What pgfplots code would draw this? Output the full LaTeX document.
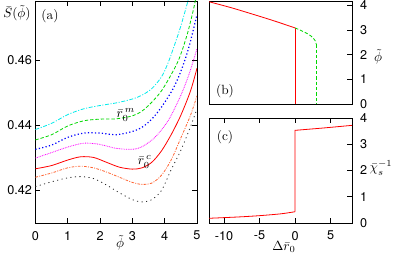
\documentclass[border=0pt]{standalone}
\usepackage{pgfplots}
\pgfplotsset{compat=1.18}
\usepackage{fontspec}
\newfontfamily\tf{TeX Gyre Heros}
\definecolor{ccyan}{RGB}{0,235,235}
\definecolor{cgreen}{RGB}{0,215,0}
\definecolor{cblue}{RGB}{0,0,255}
\definecolor{cmag}{RGB}{255,0,255}
\definecolor{cred}{RGB}{255,0,0}
\definecolor{corange}{RGB}{255,100,50}
\definecolor{cblack}{RGB}{40,40,40}
\begin{document}
\begin{tikzpicture}
\useasboundingbox (-26.55pt,-26.25pt) rectangle (269.7pt,167.25pt);
\pgfplotsset{
  every axis/.append style={
    scale only axis, anchor=south west,
    tick align=inside, major tick length=3.5pt,
    every tick/.style={black,line width=0.5pt},
    axis line style={line width=0.6pt},
    tick label style={font=\tf\fontsize{9.5}{11}\selectfont},
    /pgf/number format/assume math mode=true,
    scaled ticks=false,
    xticklabel style={yshift=-2.5pt},
  },
}
% ---------- (a) ----------
\begin{axis}[
  at={(0pt,0pt)}, width=121.2pt, height=166.5pt,
  xmin=0, xmax=5, ymin=0.4098, ymax=0.4782,
  xtick={0,1,2,3,4,5},
  ytick={0.42,0.44,0.46},
  yticklabel style={/pgf/number format/fixed,/pgf/number format/precision=2,/pgf/number format/fixed zerofill, xshift=1pt},
  every axis plot/.append style={line width=0.6pt, smooth},
  after end axis/.code={
    \node at (rel axis cs:0.09,0.932) {(a)};
    \node at (rel axis cs:-0.114,0.946) {$\bar S(\tilde\phi)$};
    \node at (rel axis cs:0.524,-0.09) {$\tilde\phi$};
  },
]
\addplot[ccyan, dash pattern=on 3pt off 1.2pt on 0.8pt off 1.2pt] coordinates {
(0,.4386) (0.5,.4405) (1,.4432) (1.5,.4450) (2,.4460) (2.5,.4468) (3,.4480) (3.3,.4492) (3.6,.4512) (3.9,.4548) (4.1,.4590) (4.3,.4645) (4.5,.4705) (4.7,.4775) (4.74,.4795)};
\addplot[cgreen, dash pattern=on 2.5pt off 1.5pt] coordinates {
(0,.4354) (0.5,.4370) (1,.4397) (1.5,.4413) (2,.4418) (2.5,.4419) (3,.4428) (3.3,.4443) (3.6,.4470) (3.9,.4505) (4.2,.4555) (4.45,.4605) (4.7,.4680) (4.9,.4760) (4.96,.4790)};
\addplot[cblue, line width=0.9pt, dash pattern=on 0.9pt off 1.7pt] coordinates {
(0,.4325) (0.5,.4338) (1,.4362) (1.5,.4375) (2,.4375) (2.5,.4370) (3,.4380) (3.3,.4393) (3.6,.4418) (3.9,.4455) (4.25,.4510) (4.5,.4565) (4.75,.4640) (5,.4740)};
\addplot[cmag, dash pattern=on 0.6pt off 0.7pt] coordinates {
(0,.4298) (0.5,.4315) (1,.4332) (1.5,.4344) (2,.4340) (2.5,.4328) (3,.4325) (3.3,.4333) (3.7,.4362) (4.1,.4412) (4.4,.4470) (4.6,.4515) (4.8,.4570) (5,.4635)};
\addplot[cred] coordinates {
(0,.4265) (0.5,.4275) (1,.4292) (1.4,.4302) (1.8,.4300) (2.2,.4285) (2.6,.4270) (3,.4264) (3.3,.4268) (3.6,.4285) (3.9,.4320) (4.2,.4370) (4.5,.4430) (4.8,.4505) (5,.4575)};
\addplot[corange, dash pattern=on 2pt off 1pt on 0.7pt off 1pt] coordinates {
(0,.4239) (0.5,.4252) (1,.4268) (1.4,.4273) (1.8,.4268) (2.2,.4255) (2.6,.4239) (3,.4223) (3.3,.4217) (3.6,.4221) (3.9,.4245) (4.2,.4292) (4.5,.4360) (4.8,.4430) (5,.4490)};
\addplot[cblack, dash pattern=on 0.8pt off 2.6pt] coordinates {
(0,.4210) (0.5,.4225) (1,.4237) (1.4,.4241) (1.8,.4235) (2.2,.4215) (2.6,.4191) (3,.4170) (3.3,.4163) (3.6,.4170) (3.9,.4198) (4.2,.4262) (4.5,.4322) (4.8,.4395) (5,.4450)};
\node at (axis cs:2.8,0.4431) {$\bar r_0^{\,m}$};
\node at (axis cs:3.38,0.4286) {$\bar r_0^{\,c}$};
\end{axis}
% ---------- (b) ----------
\begin{axis}[
  at={(130.2pt,89.25pt)}, width=107.25pt, height=77.25pt,
  xmin=-12.1, xmax=8, ymin=0, ymax=4.17,
  xtick=\empty, ytick={0,1,2,3,4},
  ytick pos=right, yticklabel pos=right,
  yticklabel style={xshift=2.5pt},
  after end axis/.code={
    \node at (rel axis cs:0.112,0.126) {(b)};
    \node at (rel axis cs:1.182,0.456) {$\tilde\phi$};
  },
]
\addplot[cred, line width=0.6pt, smooth] coordinates {(-12.1,4.14) (-9,3.90) (-6,3.64) (-3,3.37) (0,3.08)};
\addplot[cred, line width=0.6pt] coordinates {(0,3.08) (0,0)};
\addplot[cgreen, line width=0.6pt, dash pattern=on 2.5pt off 1.5pt, smooth] coordinates {(0,3.08) (0.8,2.98) (1.65,2.86) (2.2,2.76) (2.6,2.65) (2.85,2.55) (2.97,2.42)};
\addplot[cgreen, line width=0.6pt, dash pattern=on 2.5pt off 1.5pt] coordinates {(2.97,2.42) (2.97,0)};
\end{axis}
% ---------- (c) ----------
\begin{axis}[
  at={(130.2pt,0pt)}, width=107.25pt, height=78.75pt,
  xmin=-12.1, xmax=8, ymin=0, ymax=4,
  xtick={-10,-5,0,5}, ytick={0,1,2,3,4},
  ytick pos=right, yticklabel pos=right,
  yticklabel style={xshift=2.5pt},
  after end axis/.code={
    \node at (rel axis cs:0.112,0.814) {(c)};
    \node at (rel axis cs:1.203,0.524) {$\bar\chi_s^{-1}$};
    \node at (rel axis cs:0.524,-0.23) {$\Delta\bar r_0$};
  },
]
\addplot[cred, line width=0.6pt, smooth] coordinates {(-12.1,0.18) (-8,0.23) (-5,0.28) (-2,0.35) (0,0.43)};
\addplot[cred, line width=0.6pt] coordinates {(0,0.43) (0,3.53) (4,3.62) (8,3.72)};
\end{axis}
\end{tikzpicture}
\end{document}
